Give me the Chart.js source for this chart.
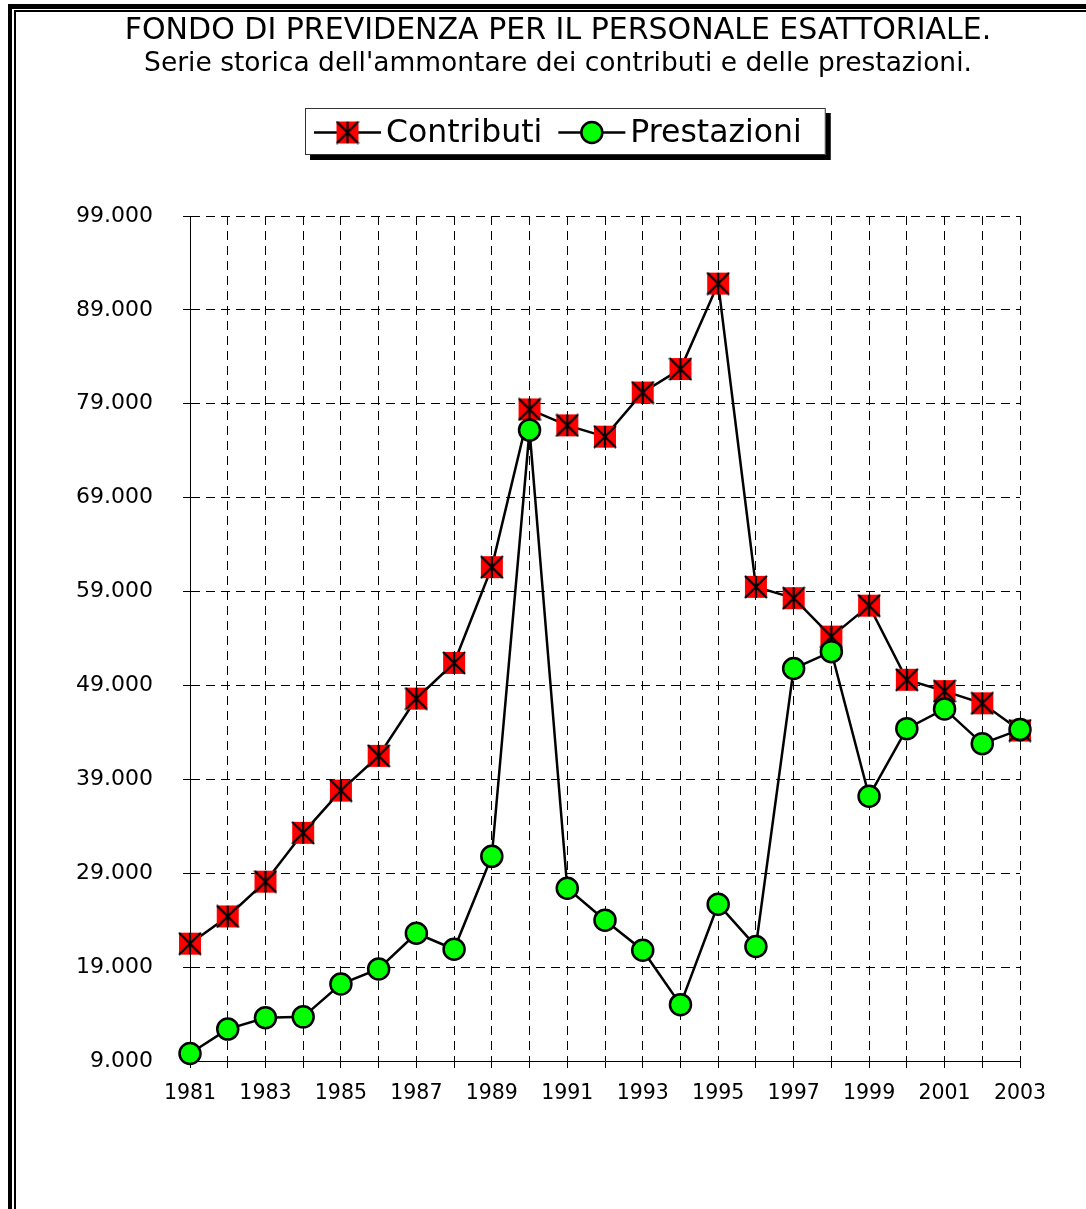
<!DOCTYPE html>
<html>
<head>
<meta charset="utf-8">
<script src="https://cdn.jsdelivr.net/npm/chart.js"></script>
<style>
  html, body { margin: 0; padding: 0; background: #fff; overflow: hidden; }
  #wrap { position: relative; width: 1086px; height: 1209px; overflow: hidden; }
  #chart { position: absolute; left: 0; top: 0; }
  .frame { position: absolute; width: 3000px; height: 3000px; pointer-events: none; }
  .outer { left: 8px; top: 4px; border-left: 4px solid #000; border-top: 5px solid #000; }
  .inner { left: 14px; top: 10px; border-left: 2px solid #000; border-top: 2px solid #000; }
</style>
</head>
<body>
<div id="wrap">
  <canvas id="chart" width="1086" height="1209"></canvas>
  <div class="frame outer"></div>
  <div class="frame inner"></div>
</div>
<script>
  const titleText = 'FONDO DI PREVIDENZA PER IL PERSONALE ESATTORIALE.';
  const subtitleText = "Serie storica dell'ammontare dei contributi e delle prestazioni.";

  const years = ['1981', '1982', '1983', '1984', '1985', '1986', '1987', '1988', '1989', '1990',
                 '1991', '1992', '1993', '1994', '1995', '1996', '1997', '1998', '1999', '2000',
                 '2001', '2002', '2003'];

  const contributi = [21500, 24400, 28100, 33300, 37800, 41500, 47600, 51400, 61600, 78400,
                      76700, 75500, 80200, 82700, 91800, 59500, 58300, 54200, 57500, 49600,
                      48400, 47100, 44200];

  const prestazioni = [9800, 12400, 13600, 13700, 17200, 18800, 22600, 20900, 30800, 76200,
                       27400, 24000, 20800, 15000, 25700, 21200, 50800, 52600, 37200, 44400,
                       46500, 42800, 44300];

  const yTickValues = [9000, 19000, 29000, 39000, 49000, 59000, 69000, 79000, 89000, 99000];

  const FONT = '"DejaVu Sans", Verdana, sans-serif';
  Chart.defaults.font.family = FONT;
  Chart.defaults.color = '#000';

  // 1.234 style thousands separator
  function fmt(v) {
    return String(v).replace(/\B(?=(\d{3})+(?!\d))/g, '.');
  }

  // red square with an asterisk (X + vertical bar), like the old spreadsheet marker
  function starMarker() {
    const c = document.createElement('canvas');
    c.width = 24; c.height = 24;
    const g = c.getContext('2d');
    g.fillStyle = '#ff0000';
    g.fillRect(1, 1, 22, 22);
    g.strokeStyle = '#000';
    g.lineWidth = 2.2;
    g.beginPath();
    g.moveTo(1, 1); g.lineTo(23, 23);
    g.moveTo(23, 1); g.lineTo(1, 23);
    g.moveTo(12, 1); g.lineTo(12, 23);
    g.stroke();
    return c;
  }

  // title, subtitle and the framed legend with drop shadow
  const header = {
    id: 'header',
    afterDraw(chart) {
      const ctx = chart.ctx;
      const cx = 558;
      ctx.save();
      ctx.fillStyle = '#000';
      ctx.textAlign = 'center';
      ctx.textBaseline = 'middle';
      ctx.font = '30px ' + FONT;
      ctx.fillText(titleText, cx, 31);
      ctx.font = '26.5px ' + FONT;
      ctx.fillText(subtitleText, cx, 64);

      ctx.font = '31.5px ' + FONT;
      const items = chart.data.datasets.map(ds => ({ ds, w: ctx.measureText(ds.label).width }));
      const sampleW = 67, textGap = 5, itemGap = 16, padL = 9, padR = 24;
      let total = padL + padR;
      items.forEach((it, i) => { total += sampleW + textGap + it.w + (i ? itemGap : 0); });
      const top = 108, h = 47, lcx = 565;
      const left = Math.round(lcx - total / 2);
      ctx.fillRect(left + 5, top + 5, total, h);
      ctx.fillStyle = '#fff';
      ctx.fillRect(left, top, total, h);
      ctx.strokeStyle = '#333';
      ctx.lineWidth = 1;
      ctx.strokeRect(left + 0.5, top + 0.5, total - 1, h - 1);

      const cy = top + h / 2 + 1;
      let x = left + padL;
      items.forEach((it, i) => {
        const ds = it.ds;
        if (i) x += itemGap;
        ctx.strokeStyle = ds.borderColor;
        ctx.lineWidth = ds.borderWidth;
        ctx.beginPath();
        ctx.moveTo(x, cy);
        ctx.lineTo(x + sampleW, cy);
        ctx.stroke();
        ctx.fillStyle = ds.pointBackgroundColor;
        ctx.strokeStyle = ds.pointBorderColor;
        ctx.lineWidth = ds.pointBorderWidth;
        Chart.helpers.drawPoint(ctx, {
          pointStyle: ds.pointStyle, radius: ds.pointRadius,
          borderWidth: ds.pointBorderWidth, rotation: 0
        }, x + sampleW / 2, cy);
        ctx.fillStyle = '#000';
        ctx.textAlign = 'left';
        ctx.fillText(ds.label, x + sampleW + textGap, cy + 1);
        x += sampleW + textGap + it.w;
      });
      ctx.restore();
    }
  };

  const ctx = document.getElementById('chart').getContext('2d');
  const chart = new Chart(ctx, {
    type: 'line',
    data: {
      labels: years,
      datasets: [{
        label: 'Contributi',
        data: contributi,
        borderColor: '#000',
        borderWidth: 2.5,
        pointStyle: starMarker(),
        pointRadius: 11,
        pointBackgroundColor: '#ff0000',
        pointBorderColor: '#000',
        pointBorderWidth: 0,
        tension: 0,
        clip: false,
        order: 1
      }, {
        label: 'Prestazioni',
        data: prestazioni,
        borderColor: '#000',
        borderWidth: 2.5,
        pointStyle: 'circle',
        pointRadius: 10.5,
        pointBackgroundColor: '#00ff00',
        pointBorderColor: '#000',
        pointBorderWidth: 2.5,
        tension: 0,
        clip: false,
        order: 0
      }]
    },
    options: {
      responsive: false,
      animation: false,
      events: [],
      layout: { padding: { left: 0, right: 66, top: 216, bottom: 0 } },
      plugins: {
        legend: { display: false },
        tooltip: { enabled: false },
        title: { display: false }
      },
      scales: {
        x: {
          type: 'category',
          afterFit(scale) { scale.height = 148; },
          grid: {
            color: '#000',
            lineWidth: 1,
            drawTicks: true,
            tickLength: 7,
            tickColor: '#000',
            tickBorderDash: []
          },
          border: { display: true, color: '#000', width: 1, dash: [9, 6] },
          ticks: {
            autoSkip: false,
            maxRotation: 0,
            padding: 13,
            color: '#000',
            font: { size: 20.5 },
            callback: (v, i) => (i % 2 === 0 ? years[i] : '')
          }
        },
        y: {
          min: 9000,
          max: 99000,
          afterFit(scale) { scale.width = 190; },
          afterBuildTicks(scale) { scale.ticks = yTickValues.map(v => ({ value: v })); },
          grid: {
            color: '#000',
            lineWidth: 1,
            drawTicks: true,
            tickLength: 7,
            tickColor: '#000',
            tickBorderDash: []
          },
          border: { display: true, color: '#000', width: 1, dash: [9, 6] },
          ticks: {
            padding: 30,
            color: '#000',
            font: { size: 22 },
            callback: v => fmt(v)
          }
        }
      }
    },
    plugins: [header]
  });
</script>
</body>
</html>
